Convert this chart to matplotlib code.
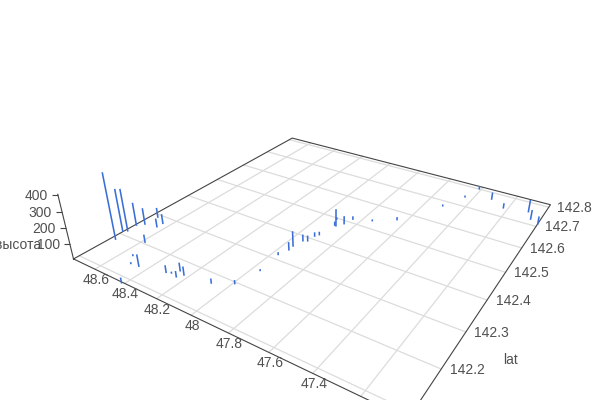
import matplotlib
matplotlib.use("Agg")
import matplotlib.pyplot as plt
from matplotlib.markers import TICKLEFT
from matplotlib.transforms import offset_copy
from mpl_toolkits.mplot3d import proj3d

# points
lat = [48.727, 48.756, 48.739, 48.746, 48.717, 48.645, 48.715, 48.645, 48.584, 48.542, 48.498,
       48.450, 48.309, 48.285, 48.245, 48.264, 48.226, 48.415, 48.082, 47.992, 47.961, 47.971,
       47.952, 47.955, 47.942, 47.922, 47.918, 47.906, 47.882, 47.891, 47.915, 47.858, 47.844,
       47.751, 47.648, 47.508, 47.445, 47.413, 47.311, 47.224, 47.098, 47.065, 47.019]
lon = [142.180, 142.209, 142.216, 142.242, 142.255, 142.261, 142.291, 142.278, 142.205, 142.158, 142.137,
       142.139, 142.153, 142.157, 142.153, 142.171, 142.165, 142.085, 142.174, 142.196, 142.254, 142.316,
       142.341, 142.357, 142.384, 142.389, 142.412, 142.422, 142.471, 142.472, 142.496, 142.488, 142.515,
       142.532, 142.565, 142.677, 142.745, 142.802, 142.768, 142.742, 142.755, 142.725, 142.711]
alt = [426, 278, 275, 148, 104, 51, 59, 58, 45, 3, 3,
       71, 40, 3, 32, 47, 49, 28, 23, 17, 3, 10,
       46, 93, 36, 30, 20, 14, 109, 19, 7, 47, 14,
       3, 12, 3, 3, 15, 42, 27, 78, 58, 49]

lat_ticks = [48.6, 48.4, 48.2, 48.0, 47.8, 47.6, 47.4, 47.2]
lat_labels = ["48.6", "48.4", "48.2", "48", "47.8", "47.6", "47.4"]
lon_ticks = [142.1, 142.2, 142.3, 142.4, 142.5, 142.6, 142.7, 142.8]
alt_ticks = [100, 200, 300, 400]

lat_min, lat_max = 47.0198, 48.7524
lon_min, lon_max = 142.0868, 142.8139
alt_max = 420

text_color = "#505050"
line_color = "#444444"
grid_color = "#dcdcdc"
bar_color = "#3b6fd8"

plt.rcParams["font.family"] = ["Liberation Sans", "DejaVu Sans"]

fig = plt.figure(figsize=(6, 4), dpi=100)
side = 489.75
cx, cy = 323.42, 194.61
ax = fig.add_axes([(cx - side / 2) / 600, (cy - side / 2) / 400, side / 600, side / 400], projection="3d")
ax.computed_zorder = False
ax.view_init(elev=28.3702, azim=-147.2141)
ax.set_proj_type("persp", focal_length=0.2271)
ax.set_box_aspect((1, 0.9964, 0.2049))
ax.set_axis_off()

# floor grid
for t in lat_ticks:
    ax.plot([lon_min, lon_max], [t, t], [0, 0], color=grid_color, lw=0.9, zorder=1, clip_on=False)
for t in lon_ticks:
    ax.plot([t, t], [lat_min, lat_max], [0, 0], color=grid_color, lw=0.9, zorder=1, clip_on=False)

# edges of the floor and the height axis
ax.plot([lon_min, lon_max, lon_max, lon_min, lon_min], [lat_max, lat_max, lat_min, lat_min, lat_max],
        [0, 0, 0, 0, 0], color=line_color, lw=0.8, zorder=2, clip_on=False)
ax.plot([lon_min, lon_min], [lat_max, lat_max], [0, alt_max * 0.96], color=line_color, lw=0.8, zorder=2, clip_on=False)
ax.plot([lon_min] * len(alt_ticks), [lat_max] * len(alt_ticks), alt_ticks, ls="none", marker=TICKLEFT,
        ms=4, mew=0.8, color=line_color, zorder=2, clip_on=False)

# one vertical line per point
for x, y, h in zip(lon, lat, alt):
    ax.plot([x, x], [y, y], [0, h], color=bar_color, lw=1.15, zorder=3, clip_on=False)

ax.set_xlim(lon_min, lon_max)
ax.set_ylim(lat_min, lat_max)
ax.set_zlim(0, alt_max)


# labels sit a fixed number of pixels away from the projected tick
def label(x, y, z, s, dx, dy, ha="center"):
    px, py, _ = proj3d.proj_transform(x, y, z, ax.get_proj())
    ax.text2D(px, py, s, transform=offset_copy(ax.transData, fig=fig, x=dx, y=dy, units="dots"),
              ha=ha, va="center", color=text_color, fontsize=10)


for t, s in zip(lat_ticks, lat_labels):
    label(lon_min, t, 0, s, 1, -11)
for t in lon_ticks[1:]:
    label(t, lat_min, 0, f"{t:.1f}", 26, -1)
for t in alt_ticks:
    label(lon_min, lat_max, t, str(t), -10, -1, ha="right")
label(lon_min, lat_max, 100, "высота", -29, -1, ha="right")
label(142.3, lat_min, 0, "lat", 45, -28)

fig.savefig("out.png", dpi=100)
